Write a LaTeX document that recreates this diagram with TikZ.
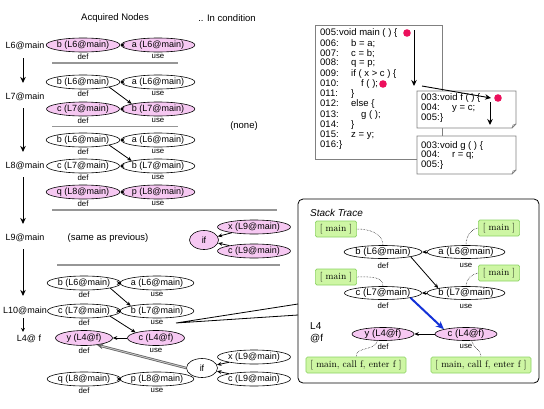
\documentclass[tikz,border=0pt]{standalone}
\usepackage{fontspec}
\newfontfamily\arial{Liberation Sans}
\usetikzlibrary{shapes.geometric,arrows.meta}
\definecolor{pinkc}{RGB}{246,200,242}
\definecolor{greenf}{RGB}{206,246,164}
\definecolor{greend}{RGB}{140,210,100}
\definecolor{dotred}{RGB}{236,16,92}
\definecolor{arrblue}{RGB}{20,50,215}
\definecolor{sepgray}{RGB}{150,150,150}
\begin{document}
\begin{tikzpicture}[x=1pt,y=-1pt,
  every node/.style={font=\arial\fontsize{9}{10}\selectfont},
  nd/.style={ellipse, draw, line width=0.6pt, inner sep=0pt, minimum width=57pt, minimum height=14pt, font=\arial\fontsize{9}{10}\selectfont},
  pk/.style={nd, fill=pinkc},
  ifn/.style={ellipse, draw, line width=0.6pt, inner sep=0pt, minimum width=29pt, minimum height=19pt, font=\arial\fontsize{9}{10}\selectfont},
  lb/.style={font=\arial\fontsize{7.8}{8}\selectfont, inner sep=0pt},
  arr/.style={-{Stealth[length=4.5pt,width=3.8pt]}, line width=0.8pt},
  bigarr/.style={-{Stealth[length=6pt,width=5.5pt]}, line width=0.9pt},
  sep/.style={draw=sepgray, line width=1.1pt},
  lvl/.style={font=\arial\fontsize{9}{10}\selectfont, inner sep=1pt},
  hdr/.style={font=\arial\fontsize{9.5}{10}\selectfont},
  st/.style={ellipse, draw, line width=0.6pt, inner sep=0pt, minimum width=62pt, minimum height=13pt, font=\arial\fontsize{9.5}{10}\selectfont},
  stp/.style={st, fill=pinkc},
  gb/.style={draw=greend, fill=greenf, line width=0.6pt, rounded corners=1.5pt, inner xsep=4.5pt, inner ysep=0pt, minimum height=16pt, font=\rmfamily\fontsize{9.5}{10}\selectfont},
  dl/.style={densely dotted, line width=0.5pt},
  cbox/.style={draw=gray, line width=0.8pt, fill=white},
  cd/.style={anchor=west, inner sep=0pt, font=\arial\fontsize{9.5}{10}\selectfont},
  reddot/.style={fill=dotred}
]
\useasboundingbox (0,0) rectangle (544,408);

% headers
\node[hdr] (h1) at (115,18) {Acquired Nodes};
\node[hdr] (h2) at (227,18) {.. In condition};

% level labels
\node[lvl] (L6) at (25,46) {L6@main};
\node[lvl] (L7) at (25,97) {L7@main};
\node[lvl] (L8) at (25,166) {L8@main};
\node[lvl] (L9) at (25,238) {L9@main};
\node[lvl] (L10) at (25,311) {L10@main};
\node[lvl] (L4) at (29,339) {L4@ f};
\draw[bigarr,shorten <=7pt,shorten >=9pt] ([xshift=-2pt]L6.south) -- ([xshift=-2pt]L7.north);
\draw[bigarr,shorten <=6pt,shorten >=9pt] ([xshift=-2pt]L7.south) -- ([xshift=-2pt]L8.north);
\draw[bigarr,shorten <=6pt,shorten >=9pt] ([xshift=-2pt]L8.south) -- ([xshift=-2pt]L9.north);
\draw[bigarr,shorten <=6pt,shorten >=10pt] ([xshift=-2pt]L9.south) -- ([xshift=-2pt]L10.north);
\draw[-{Stealth[length=4pt,width=4pt]}, line width=0.8pt,shorten <=2pt,shorten >=2pt] ([xshift=-2pt]L10.south) -- ([xshift=-6pt]L4.north);

% group 1 (L6)
\node[pk] (g1b) at (83,45) {b (L6@main)};
\node[pk] (g1a) at (158,45) {a (L6@main)};
\node[lb] (g1bd) at (83,56.5) {def};
\node[lb] (g1au) at (158,56.5) {use};
\draw[arr] (g1a) -- (g1b);
\draw[sep] (52,63) -- (178,63);

% group 2 (L7)
\node[nd] (g2b) at (83,82) {b (L6@main)};
\node[nd] (g2a) at (158,82) {a (L6@main)};
\node[lb] (g2bd) at (83,93.5) {def};
\node[lb] (g2au) at (158,93.5) {use};
\node[pk] (g2c) at (83,109) {c (L7@main)};
\node[pk] (g2b7) at (158,109) {b (L7@main)};
\node[lb] (g2cd) at (83,120.5) {def};
\node[lb] (g2bu) at (158,120.5) {use};
\draw[arr] (g2a) -- (g2b);
\draw[arr] (g2b7) -- (g2c);
\draw[arr] (g2b.south east) -- (g2b7.north west);
\draw[sep] (52,126.5) -- (178,126.5);
\node[hdr] (none) at (244,126) {(none)};

% group 3 (L8)
\node[nd] (g3b) at (83,140) {b (L6@main)};
\node[nd] (g3a) at (158,140) {a (L6@main)};
\node[lb] (g3bd) at (83,151.5) {def};
\node[lb] (g3au) at (158,151.5) {use};
\node[nd] (g3c) at (83,166) {c (L7@main)};
\node[nd] (g3b7) at (158,166) {b (L7@main)};
\node[lb] (g3cd) at (83,177.5) {def};
\node[lb] (g3bu) at (158,177.5) {use};
\node[pk] (g3q) at (83,192) {q (L8@main)};
\node[pk] (g3p) at (158,192) {p (L8@main)};
\node[lb] (g3qd) at (83,203.5) {def};
\node[lb] (g3pu) at (158,203.5) {use};
\draw[arr] (g3a) -- (g3b);
\draw[arr] (g3b7) -- (g3c);
\draw[arr] (g3b.south east) -- (g3b7.north west);
\draw[arr] (g3p) -- (g3q);
\draw[sep] (52,210) -- (277,210);

% group 4 (L9)
\node[hdr] (same) at (108,238) {(same as previous)};
\node[ifn, fill=pinkc] (g4if) at (204,240) {if};
\node[pk, minimum width=53pt] (g4x) at (254,227) {x (L9@main)};
\node[pk, minimum width=53pt] (g4c) at (254,251) {c (L9@main)};
\draw[arr] (g4x) -- (g4if);
\draw[arr] (g4c) -- (g4if);
\draw[sep] (57,265) -- (280,265);

% group 5 (L10 -> L4@f)
\node[nd] (g5b) at (84,283) {b (L6@main)};
\node[nd] (g5a) at (157,283) {a (L6@main)};
\node[lb] (g5bd) at (84,294.5) {def};
\node[lb] (g5au) at (157,294.5) {use};
\node[nd] (g5c) at (84,311) {c (L7@main)};
\node[nd] (g5b7) at (157,311) {b (L7@main)};
\node[lb] (g5cd) at (84,322.5) {def};
\node[lb] (g5bu) at (157,322.5) {use};
\node[pk, minimum height=15pt] (g5y) at (84,338) {y (L4@f)};
\node[pk, minimum height=15pt] (g5cf) at (156,338) {c (L4@f)};
\node[lb] (g5yd) at (84,350.5) {def};
\node[lb] (g5cu) at (156,350.5) {use};
\node[ifn, minimum width=31pt] (g5if) at (202,368) {if};
\node[nd, minimum width=53pt] (g5x) at (254,357) {x (L9@main)};
\node[nd, minimum width=53pt] (g5c9) at (254,379) {c (L9@main)};
\node[nd] (g5q) at (84,379) {q (L8@main)};
\node[nd] (g5p) at (157,379) {p (L8@main)};
\node[lb] (g5qd) at (84,390.5) {def};
\node[lb] (g5pu) at (157,390.5) {use};
\draw[arr] (g5a) -- (g5b);
\draw[arr] (g5b7) -- (g5c);
\draw[arr] (g5b.south east) -- (g5b7.north west);
\draw[arr] (g5cf) -- (g5y);
\draw[arr] (g5c.south east) -- (g5cf.north west);
\draw[arr] (g5p) -- (g5q);
\draw[arr] (g5x) -- (g5if);
\draw[arr] (g5c9) -- (g5if);
\draw[line width=2.4pt, gray!75!black, -{Stealth[length=6pt,width=5.5pt]}] (g5if.west) -- (g5y.-28);
\draw[line width=0.9pt, gray!45, shorten >=4pt] (g5if.west) -- (g5y.-28);

% wedge to stack trace
\coordinate (w0) at (176,323);
\coordinate (w1) at (298,304);
\coordinate (w2) at (298,315);
\draw[line width=0.8pt] (w1) -- (w0) -- (w2);

% stack trace box
\draw[line width=0.8pt, rounded corners=5pt] (298,199) rectangle (539,383);
\node[anchor=west, inner sep=0pt, font=\arial\itshape\fontsize{10}{10}\selectfont] (stt) at (310,213) {Stack Trace};
\node[anchor=west, inner sep=0pt, align=left, font=\arial\fontsize{10}{12}\selectfont] (stl4) at (310,333) {L4\\@f};

\node[st] (sb6) at (383,252) {b (L6@main)};
\node[st] (sa6) at (466,252) {a (L6@main)};
\node[lb] (sb6d) at (383,265.5) {def};
\node[lb] (sa6u) at (466,265.5) {use};
\node[st] (sc7) at (383,293) {c (L7@main)};
\node[st] (sb7) at (466,293) {b (L7@main)};
\node[lb] (sc7d) at (383,306) {def};
\node[lb] (sb7u) at (466,306) {use};
\node[stp] (sy) at (383,334) {y (L4@f)};
\node[stp] (scf) at (466,334) {c (L4@f)};
\node[lb] (syd) at (383,346.5) {def};
\node[lb] (scfu) at (466,346.5) {use};

\node[gb] (gm1) at (336,229) {[ main ]};
\node[gb] (gm2) at (499,228) {[ main ]};
\node[gb] (gm3) at (336,277) {[ main ]};
\node[gb] (gm4) at (499,273) {[ main ]};
\node[gb] (gmf1) at (356,365) {[ main, call f, enter f ]};
\node[gb] (gmf2) at (481,365) {[ main, call f, enter f ]};

\draw[arr] (sa6) -- (sb6);
\draw[arr] (sb7) -- (sc7);
\draw[arr] (scf) -- (sy);
\draw[arr] (sb6.south east) -- (sb7.north west);
\draw[-{Stealth[length=8pt,width=7pt]}, line width=2pt, arrblue] (sc7.south east) -- (scf.north west);

\draw[dl] (gm1.east) to[out=0,in=90] (sb6.north);
\draw[dl] (gm2.west) to[out=190,in=90] (sa6.north);
\draw[dl] (gm3.east) to[out=0,in=90] (sc7.north);
\draw[dl] (gm4.west) to[out=190,in=90] (sb7.north);
\draw[dl] (sy.230) to[out=-100,in=90] (gmf1.north);
\draw[dl] (scf.310) to[out=-80,in=90] (gmf2.north);

% code boxes
\draw[cbox] (315,25) rectangle (442,159);
\filldraw[cbox] (417,91) -- (516,91) -- (516,124) -- (512,128) -- (417,128) -- cycle;
\draw[draw=gray, line width=0.6pt] (512,128) -- (513,125) -- (516,124);
\filldraw[cbox] (417,136) -- (516,136) -- (516,170) -- (512,174) -- (417,174) -- cycle;
\draw[draw=gray, line width=0.6pt] (512,174) -- (513,171) -- (516,170);

\node[cd] (m5) at (320,33) {\makebox[19pt][l]{005:}void main ( ) \{};
\node[cd] (m6) at (320,43.2) {\makebox[19pt][l]{006:}\hspace{12pt}b = a;};
\node[cd] (m7) at (320,53.4) {\makebox[19pt][l]{007:}\hspace{12pt}c = b;};
\node[cd] (m8) at (320,63.6) {\makebox[19pt][l]{008:}\hspace{12pt}q = p;};
\node[cd] (m9) at (320,73.8) {\makebox[19pt][l]{009:}\hspace{12pt}if ( x > c ) \{};
\node[cd] (m10) at (320,84) {\makebox[19pt][l]{010:}\hspace{22pt}f ( );};
\node[cd] (m11) at (320,94.2) {\makebox[19pt][l]{011:}\hspace{12pt}\}};
\node[cd] (m12) at (320,104.4) {\makebox[19pt][l]{012:}\hspace{12pt}else \{};
\node[cd] (m13) at (320,114.6) {\makebox[19pt][l]{013:}\hspace{22pt}g ( );};
\node[cd] (m14) at (320,124.8) {\makebox[19pt][l]{014:}\hspace{12pt}\}};
\node[cd] (m15) at (320,135) {\makebox[19pt][l]{015:}\hspace{12pt}z = y;};
\node[cd] (m16) at (320,145.2) {\makebox[19pt][l]{016:}\}};

\node[cd] (f3) at (421,98) {\makebox[19pt][l]{003:}void f ( ) \{};
\node[cd] (f4) at (421,108.2) {\makebox[19pt][l]{004:}\hspace{12pt}y = c;};
\node[cd] (f5) at (421,118.4) {\makebox[19pt][l]{005:}\}};
\node[cd] (gg3) at (421,146) {\makebox[19pt][l]{003:}void g ( ) \{};
\node[cd] (gg4) at (421,155.5) {\makebox[19pt][l]{004:}\hspace{12pt}r = q;};
\node[cd] (gg5) at (421,165) {\makebox[19pt][l]{005:}\}};

\fill[reddot] (407,33) circle (3.8pt);
\fill[reddot] (383,84) circle (3.8pt);
\fill[reddot] (498,98) circle (3.8pt);

\coordinate (a1s) at (414,30);
\coordinate (a1e) at (414,86);
\coordinate (a2s) at (422,86);
\coordinate (a2e) at (491,98);
\coordinate (a3s) at (490,102);
\coordinate (a3e) at (490,125);
\draw[bigarr] (a1s) -- (a1e);
\draw[bigarr] (a2s) -- (a2e);
\draw[bigarr] (a3s) -- (a3e);
\end{tikzpicture}
\end{document}
